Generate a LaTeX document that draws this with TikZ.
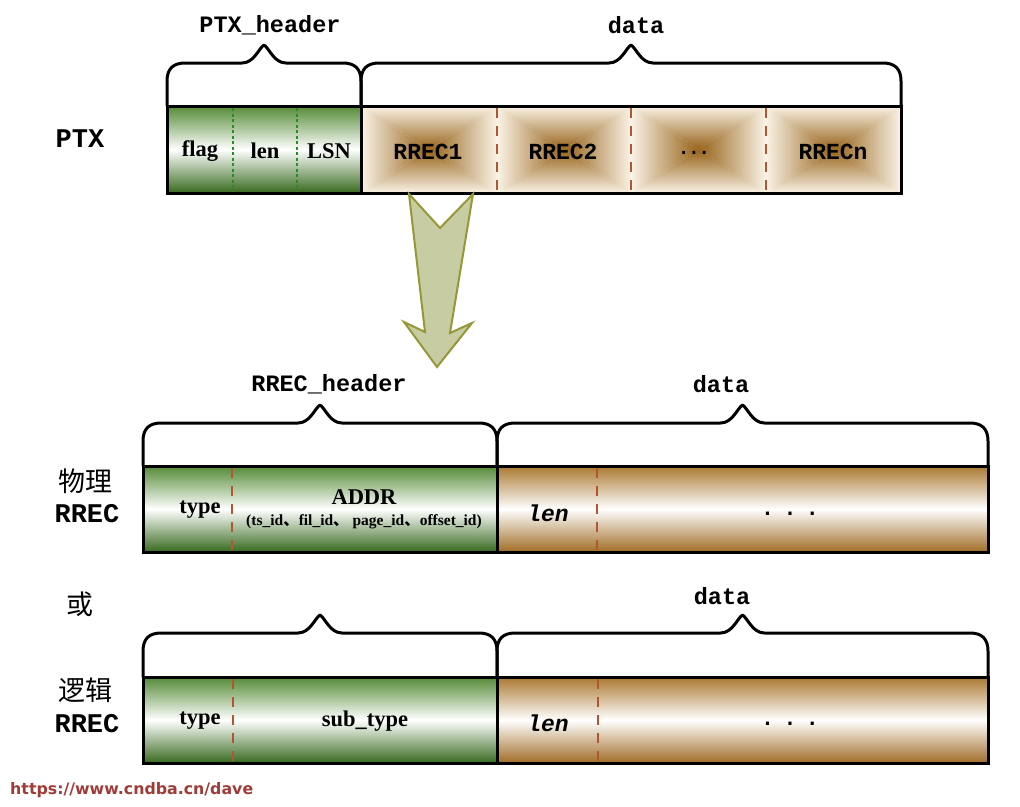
\documentclass[tikz,border=0pt]{standalone}
\usepackage{fontspec}
\setmainfont{Liberation Serif}
\setmonofont{Liberation Mono}
\newfontfamily\cjk{Noto Sans CJK SC}
\newfontfamily\wmfont{DejaVu Sans}
\newfontfamily\dotfont{DejaVu Sans Mono}
\definecolor{grn}{RGB}{84,138,54}
\definecolor{grnd}{RGB}{55,105,30}
\definecolor{brn}{RGB}{170,120,48}
\definecolor{brnd}{RGB}{160,108,38}
\definecolor{brnc}{RGB}{150,98,25}
\definecolor{brnl}{RGB}{250,243,230}
\definecolor{dashred}{RGB}{180,85,50}
\definecolor{dashgrn}{RGB}{40,140,40}
\definecolor{arrfill}{RGB}{200,204,162}
\definecolor{arrline}{RGB}{150,152,55}
\definecolor{wmcol}{RGB}{160,60,55}
\newcommand{\mybrace}[5]{%
  \pgfmathsetmacro{\bm}{(#1+#2)/2}%
  \draw[bracestyle] (#1,#3) -- (#1,#4+18) .. controls (#1,#4+6) and (#1+6,#4) .. (#1+18,#4)
    -- (\bm-22,#4) .. controls (\bm-10,#4) and (\bm-5,#5+3) .. (\bm,#5)
    .. controls (\bm+5,#5+3) and (\bm+10,#4) .. (\bm+22,#4)
    -- (#2-18,#4) .. controls (#2-6,#4) and (#2,#4+6) .. (#2,#4+18) -- (#2,#3);
}
\newcommand{\pyrcell}[4]{%
  \pgfmathsetmacro{\cx}{(#1+#2)/2}\pgfmathsetmacro{\cy}{(#3+#4)/2}%
  \shade[top color=brnl, bottom color=brnc] (#1,#3) -- (#2,#3) -- (\cx,\cy) -- cycle;
  \shade[top color=brnc, bottom color=brnl] (#1,#4) -- (#2,#4) -- (\cx,\cy) -- cycle;
  \shade[left color=brnl, right color=brnc] (#1,#3) -- (#1,#4) -- (\cx,\cy) -- cycle;
  \shade[left color=brnc, right color=brnl] (#2,#3) -- (#2,#4) -- (\cx,\cy) -- cycle;
}
\newcommand{\spdots}{.\kern11pt.\kern11pt.}
\begin{document}
\begin{tikzpicture}[x=1pt,y=-1pt,
  outline/.style={draw=black,line width=3pt},
  bracestyle/.style={draw=black,line width=3pt,line join=round},
  greenfill/.style={top color=grn, bottom color=grnd, middle color=white},
  brownfill/.style={top color=brn, bottom color=brnd, middle color=white},
  reddash/.style={draw=dashred,line width=1.6pt,dash pattern=on 10pt off 8pt},
  grndash/.style={draw=dashgrn,line width=1.4pt,dash pattern=on 3pt off 2.5pt},
  lbl/.style={font=\fontsize{23.5}{26}\selectfont\ttfamily\bfseries},
  side/.style={font=\fontsize{27}{30}\selectfont\ttfamily\bfseries},
  cn/.style={font=\fontsize{27}{30}\selectfont\cjk},
  serif/.style={font=\fontsize{22.5}{24}\selectfont\bfseries},
  monocell/.style={font=\fontsize{23}{26}\selectfont\ttfamily\bfseries},
  itmono/.style={font=\fontsize{23}{26}\selectfont\ttfamily\bfseries\itshape},
  dotsty/.style={font=\fontsize{19}{22}\selectfont\dotfont\bfseries},
  bigarrow/.style={fill=arrfill,draw=arrline,line width=2pt,line join=miter}
]
\useasboundingbox (0,0) rectangle (1020,806);
\fill[white] (0,0) rectangle (1020,806);

% ---------------- PTX row ----------------
\shade[greenfill] (167,106) rectangle (361,193);
\pyrcell{361}{497}{106}{193}
\pyrcell{497}{631}{106}{193}
\pyrcell{631}{766}{106}{193}
\pyrcell{766}{901}{106}{193}
\draw[grndash] (233,108) -- (233,191);
\draw[grndash] (297,108) -- (297,191);
\draw[reddash] (497,108) -- (497,191);
\draw[reddash] (631,108) -- (631,191);
\draw[reddash] (766,108) -- (766,191);
\draw[outline] (167,106) rectangle (901,193);
\draw[outline] (361,106) -- (361,193);
\mybrace{167}{361}{106}{63}{45}
\mybrace{361}{901}{106}{63}{45}

\node[lbl] (ptxh) at (270,25) {PTX\_header};
\node[lbl] (ptxd) at (636,25) {data};
\node[side] (ptx) at (80,139) {PTX};
\node[serif] (flag) at (200,151) {flag};
\node[serif] (len1) at (265,151) {len};
\node[serif] (lsn) at (329,151) {LSN};
\node[monocell] (r1) at (428,152) {RREC1};
\node[monocell] (r2) at (563,152) {RREC2};
\node[font=\fontsize{17}{20}\selectfont\dotfont\bfseries] (rd) at (694,153) {...};
\node[monocell] (rn) at (833,152) {RRECn};

% ---------------- big arrow ----------------
\draw[bigarrow] (409,194) -- (440,228) -- (473,194) -- (450,333) -- (472,323)
  -- (437,367) -- (404,322) -- (425,332) -- cycle;

% ---------------- physical RREC ----------------
\shade[greenfill] (143,466) rectangle (497,552);
\shade[brownfill] (497,466) rectangle (988,552);
\draw[reddash] (232,468) -- (232,550);
\draw[reddash] (597,468) -- (597,550);
\draw[outline] (143,466) rectangle (988,552);
\draw[outline] (497,466) -- (497,552);
\mybrace{143}{497}{466}{423}{405}
\mybrace{497}{988}{466}{423}{405}

\node[lbl] (rh) at (329,384) {RREC\_header};
\node[lbl] (d2) at (721,384) {data};
\node[cn] (wl) at (85,481) {物理};
\node[side] (rr1) at (87,514) {RREC};
\node[serif] (type1) at (200,510) {type};
\node[serif] (addr) at (364,497) {ADDR};
\node[font=\fontsize{15.5}{17}\selectfont\bfseries] (addrsub) at (364,522)
  {(ts\_id{\cjk 、}fil\_id{\cjk 、} page\_id{\cjk 、}offset\_id)};
\node[itmono] (len2) at (548,513) {len};
\node[dotsty] (dots2) at (790,514) {\spdots};

% ---------------- logical RREC ----------------
\node[cn] (huo) at (80,604) {或};
\shade[greenfill] (143,677) rectangle (497,763);
\shade[brownfill] (497,677) rectangle (988,763);
\draw[reddash] (233,679) -- (233,761);
\draw[reddash] (598,679) -- (598,761);
\draw[outline] (143,677) rectangle (988,763);
\draw[outline] (497,677) -- (497,763);
\mybrace{143}{497}{677}{633}{615}
\mybrace{497}{988}{677}{633}{615}

\node[lbl] (d3) at (722,596) {data};
\node[cn] (lj) at (85,690) {逻辑};
\node[side] (rr2) at (87,724) {RREC};
\node[serif] (type2) at (200,721) {type};
\node[serif] (subt) at (365,721) {sub\_type};
\node[itmono] (len3) at (548,723) {len};
\node[dotsty] (dots3) at (790,724) {\spdots};

% ---------------- watermark ----------------
\node[anchor=west,inner sep=0pt,text=wmcol,font=\fontsize{15.8}{18}\selectfont\wmfont\bfseries] (wm) at (10,790) {https://www.cndba.cn/dave};
\end{tikzpicture}
\end{document}
